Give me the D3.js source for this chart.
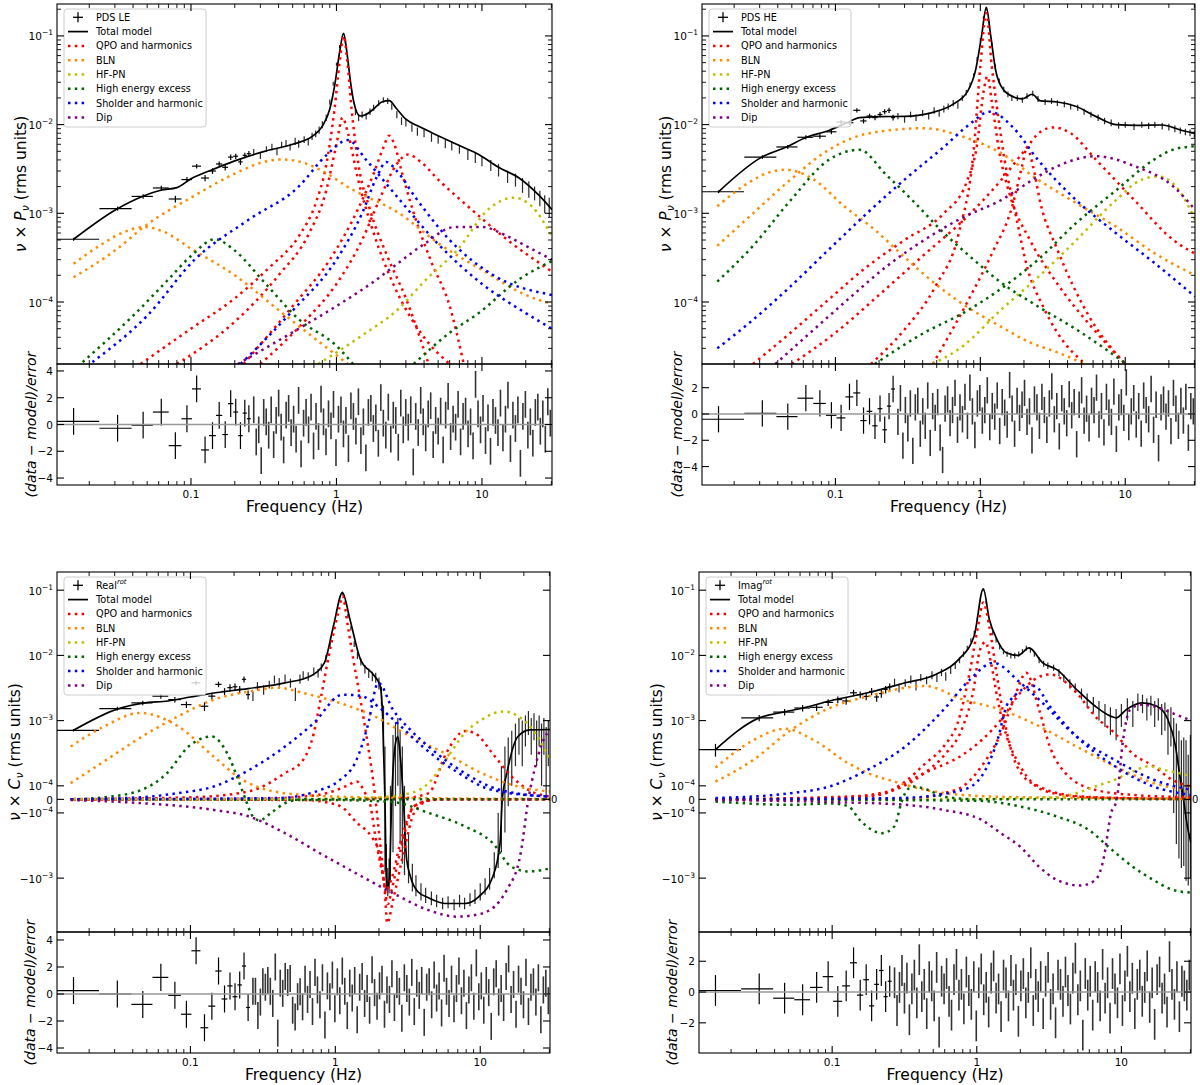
<!DOCTYPE html>
<html>
<head>
<meta charset="utf-8">
<script src="https://cdn.jsdelivr.net/npm/d3@7"></script>
<style>
  body { margin: 0; background: #fff; }
  svg text { font-family: "DejaVu Sans", sans-serif; fill: #000; }
</style>
</head>
<body>
<svg id="chart" width="1200" height="1085"></svg>
<script>
// shared frequency axis and binning
const xLim = [0.012, 30.3]
const loFreqs = [0.0156,0.0313,0.0469,0.0625,0.0781,0.0938,0.1094,0.125,0.1406,0.1563,0.1719,0.1875,0.2031,0.2188,0.2344,0.25]
const loHalf = 0.0078
const denseSpan = [0.27, 29.5]
const xMajor = [0.1, 1, 10]

// ---------- PDS LE ----------
const leLo = [5.1e-4,1.13e-3,1.55e-3,1.93e-3,1.45e-3,2.4e-3,3.4e-3,2.5e-3,3.0e-3,3.6e-3,3.3e-3,4.3e-3,4.4e-3,3.8e-3,4.5e-3,4.7e-3]
const leLoErr = [2e-5,6e-5,9e-5,1.2e-4,1.3e-4,1.6e-4,2e-4,2e-4,2.2e-4,2.5e-4,2.6e-4,3e-4,3e-4,3e-4,3.2e-4,3.4e-4]
const leDense = [[0.27,4.9e-3,4e-4],[0.3,4.5e-3,4e-4],[0.33,5.3e-3,4e-4],[0.36,5.6e-3,5e-4],[0.39,5.0e-3,5e-4],[0.42,5.9e-3,5e-4],[0.45,6.2e-3,5e-4],[0.48,5.6e-3,5e-4],[0.52,6.5e-3,6e-4],[0.55,6.1e-3,6e-4],[0.6,6.8e-3,6e-4],[0.64,6.4e-3,6e-4],[0.68,7.4e-3,7e-4],[0.72,7.9e-3,7e-4],[0.76,8.7e-3,8e-4],[0.8,1.0e-2,9e-4],[0.85,1.2e-2,1e-3],[0.9,1.8e-2,1.2e-3],[0.95,2.9e-2,1.5e-3],[1.0,4.8e-2,2e-3],[1.05,7.6e-2,3e-3],[1.1,1.0e-1,4e-3],[1.15,8.5e-2,3.5e-3],[1.2,4.6e-2,2e-3],[1.27,2.3e-2,1.5e-3],[1.35,1.4e-2,1.2e-3],[1.42,1.2e-2,1.1e-3],[1.5,1.3e-2,1.1e-3],[1.6,1.25e-2,1.1e-3],[1.7,1.4e-2,1.2e-3],[1.8,1.55e-2,1.2e-3],[1.95,1.75e-2,1.3e-3],[2.1,1.9e-2,1.4e-3],[2.25,1.85e-2,1.4e-3],[2.4,1.6e-2,1.3e-3],[2.6,1.3e-2,1.2e-3],[2.8,1.1e-2,1.1e-3],[3.0,1.05e-2,1e-3],[3.3,9.2e-3,9e-4],[3.6,8.4e-3,9e-4],[4.0,8.0e-3,8e-4],[4.5,7.2e-3,8e-4],[5.0,6.8e-3,7e-4],[5.6,6.1e-3,7e-4],[6.2,5.8e-3,7e-4],[7.0,5.3e-3,6e-4],[8.0,4.6e-3,6e-4],[9.0,4.3e-3,6e-4],[10,3.9e-3,5e-4],[11.5,3.5e-3,5e-4],[13,3.1e-3,5e-4],[15,2.6e-3,4e-4],[17,2.4e-3,4e-4],[19,2.1e-3,4e-4],[21,1.9e-3,4e-4],[23,1.7e-3,3e-4],[25,1.5e-3,3e-4],[27,1.3e-3,3e-4],[29,1.2e-3,3e-4]]
const leModel = [[0.0156,5.1e-4],[0.031,1.12e-3],[0.045,1.52e-3],[0.062,1.82e-3],[0.08,1.95e-3],[0.1,2.45e-3],[0.14,3.1e-3],[0.2,3.9e-3],[0.32,5e-3],[0.5,6e-3],[0.7,7.6e-3],[0.8,9.6e-3],[0.9,1.5e-2],[0.98,3e-2],[1.05,6.5e-2],[1.12,0.107],[1.18,6.5e-2],[1.25,3e-2],[1.32,1.75e-2],[1.45,1.25e-2],[1.6,1.3e-2],[1.8,1.5e-2],[2.05,1.8e-2],[2.3,1.86e-2],[2.6,1.5e-2],[3.0,1.15e-2],[3.7,9.5e-3],[5,7.5e-3],[7,5.8e-3],[9.5,4.6e-3],[13,3.3e-3],[18,2.5e-3],[24.6,1.6e-3],[30.3,1.1e-3]]
const leQpo = [
  [[0.045,2e-5],[0.1,5e-5],[0.2,1.1e-4],[0.35,2.5e-4],[0.55,5.5e-4],[0.72,1.3e-3],[0.85,3.5e-3],[0.97,1.5e-2],[1.05,5e-2],[1.12,0.1],[1.19,5e-2],[1.27,1.5e-2],[1.4,4e-3],[1.7,1.1e-3],[2.2,3.5e-4],[3,1.1e-4],[4.3,2e-5]],
  [[0.08,2e-5],[0.2,6e-5],[0.4,2e-4],[0.65,6e-4],[0.85,1.8e-3],[1.0,6e-3],[1.1,1.2e-2],[1.2,8e-3],[1.4,2.5e-3],[1.8,6e-4],[2.5,1.5e-4],[4,4e-5],[6,2e-5]],
  [[0.23,2e-5],[0.5,9e-5],[0.9,3e-4],[1.4,1.1e-3],[1.8,2.8e-3],[2.1,5.5e-3],[2.3,7.5e-3],[2.5,6e-3],[2.8,3e-3],[3.4,1e-3],[4.5,2.8e-4],[6,9e-5],[7.5,2e-5]],
  [[0.3,2e-5],[0.6,6e-5],[1.0,1.6e-4],[1.5,5e-4],[2.0,1.5e-3],[2.6,3.6e-3],[3.1,4.6e-3],[3.8,3.8e-3],[5,2.4e-3],[8,1.2e-3],[15,5e-4],[30.3,2.2e-4]]
]
const leBln = [
  [[0.0156,2.7e-4],[0.025,4.6e-4],[0.035,6.2e-4],[0.048,7e-4],[0.065,6.2e-4],[0.1,4e-4],[0.2,2e-4],[0.42,7.6e-5],[0.77,3.5e-5],[1.2,2e-5]],
  [[0.0156,1.9e-4],[0.03,3.8e-4],[0.05,7.5e-4],[0.1,1.5e-3],[0.2,2.8e-3],[0.3,3.7e-3],[0.42,4.05e-3],[0.6,3.7e-3],[0.8,3e-3],[1.25,1.9e-3],[2.7,1e-3],[5,4.6e-4],[10,2.3e-4],[20,1.2e-4],[30.3,9.5e-5]]
]
const leHfpn = [[[0.75,2e-5],[1.5,4.2e-5],[2.7,8.5e-5],[4,1.7e-4],[6.9,4e-4],[11,1.1e-3],[16.5,1.5e-3],[22,1.2e-3],[30.3,5.5e-4]]]
const leHee = [
  [[0.018,2.1e-5],[0.04,7e-5],[0.07,1.8e-4],[0.1,3.3e-4],[0.146,5.1e-4],[0.2,3.8e-4],[0.32,1.66e-4],[0.55,6.4e-5],[1.0,3.2e-5],[1.3,2e-5]],
  [[3.4,2e-5],[6,4.5e-5],[9.5,7.5e-5],[18,1.8e-4],[30.3,2.9e-4]]
]
const leSh = [
  [[0.021,2.1e-5],[0.05,7e-5],[0.106,3e-4],[0.25,8.5e-4],[0.55,2e-3],[0.85,4.5e-3],[1.2,6.7e-3],[1.6,4e-3],[2.7,1.44e-3],[5,4.5e-4],[10,1.6e-4],[20,7.5e-5],[30.3,5e-5]],
  [[0.22,2e-5],[0.5,8e-5],[1.0,3e-4],[1.5,1e-3],[1.9,2.6e-3],[2.2,3.8e-3],[2.6,3e-3],[3.5,1.5e-3],[6,5e-4],[12,2e-4],[30.3,1.2e-4]]
]
const leDip = [[[0.21,2e-5],[0.55,5e-5],[1.0,9e-5],[1.77,1.66e-4],[2.7,2.8e-4],[4,4.5e-4],[6.5,7e-4],[10,7e-4],[15,5.5e-4],[20,4.3e-4],[30.3,3e-4]]]
const leResLo = [0.23,-0.28,-0.05,0.93,-1.58,0.43,2.66,-1.9,-0.83,0.68,-0.75,1.56,0.93,-0.83,0.85,0.43]
const leResDense = [1.1,-1.3,-0.4,-2.7,0.9,0.2,-0.8,1.1,-1.5,0.3,1.6,-0.2,-1.9,0.7,1.2,-0.6,0.4,-1.1,1.8,-2.2,
  0.1,0.9,-0.4,1.3,-1.6,0.6,-0.9,1.9,0.2,-1.3,0.8,-0.1,1.5,-2.1,0.4,1.1,-0.7,0.3,-1.8,1.4,
  0.6,-0.5,1.7,-1.2,0.2,-2.5,0.9,1.2,-0.3,0.5,-1.4,2.0,0.1,-0.8,1.3,-1.1,0.7,0.3,-1.7,1.6,
  -0.4,0.9,-0.2,1.1,-2.8,0.6,-0.6,1.8,0.2,-1.0,0.8,1.4,-1.5,0.3,-0.5,1.0,-1.9,0.7,2.1,-0.9,
  0.4,-0.2,1.5,-1.3,0.6,1.0,-0.7,0.2,-1.6,3.0,0.8,-0.4,1.2,-1.2,0.5,-2.0,0.9,0.3,-0.6,1.6,
  -1.0,0.4,2.2,-1.8,0.7,-0.3,1.1,-2.9,0.6,1.5,-0.8,0.2,-1.4,0.9,1.3,-0.5,0.8,-1.1,1.7,0.1]

// ---------- PDS HE ----------
const heLo = [1.75e-3,4.3e-3,5.6e-3,7.2e-3,7.4e-3,8.3e-3,1.07e-2,1.05e-2,1.45e-2,1.1e-2,1.25e-2,1.2e-2,1.3e-2,1.4e-2,1.45e-2,1.2e-2]
const heLoErr = [6e-5,2e-4,3e-4,4e-4,4.5e-4,5e-4,6e-4,6e-4,8e-4,7e-4,8e-4,8e-4,9e-4,9e-4,1e-3,9e-4]
const heDense = [[0.27,1.25e-2,1e-3],[0.3,1.15e-2,1e-3],[0.33,1.3e-2,1e-3],[0.36,1.2e-2,1e-3],[0.4,1.35e-2,1.1e-3],[0.44,1.25e-2,1.1e-3],[0.48,1.45e-2,1.2e-3],[0.52,1.35e-2,1.2e-3],[0.56,1.5e-2,1.3e-3],[0.6,1.6e-2,1.3e-3],[0.65,1.75e-2,1.4e-3],[0.7,1.65e-2,1.4e-3],[0.75,2.0e-2,1.5e-3],[0.8,2.3e-2,1.6e-3],[0.85,2.8e-2,1.8e-3],[0.9,3.6e-2,2e-3],[0.95,5.5e-2,3e-3],[1.0,9e-2,4e-3],[1.05,0.16,6e-3],[1.1,0.2,8e-3],[1.15,0.14,6e-3],[1.2,8e-2,4e-3],[1.27,4.5e-2,3e-3],[1.35,3.1e-2,2e-3],[1.45,2.5e-2,1.8e-3],[1.55,2.2e-2,1.6e-3],[1.65,2.0e-2,1.5e-3],[1.8,2.0e-2,1.5e-3],[1.95,1.9e-2,1.4e-3],[2.1,2.1e-2,1.5e-3],[2.3,2.25e-2,1.6e-3],[2.5,1.95e-2,1.5e-3],[2.8,1.8e-2,1.4e-3],[3.1,1.85e-2,1.4e-3],[3.4,1.75e-2,1.3e-3],[3.8,1.7e-2,1.3e-3],[4.2,1.6e-2,1.2e-3],[4.7,1.55e-2,1.2e-3],[5.2,1.4e-2,1.1e-3],[5.8,1.3e-2,1e-3],[6.5,1.2e-2,1e-3],[7.2,1.1e-2,9e-4],[8,1.05e-2,9e-4],[9,9.8e-3,8e-4],[10,1.0e-2,8e-4],[11.5,9.5e-3,8e-4],[13,1.0e-2,8e-4],[14.5,9.7e-3,8e-4],[16,1.0e-2,8e-4],[18,9.6e-3,8e-4],[20,9.4e-3,8e-4],[22,9.0e-3,8e-4],[24,8.6e-3,7e-4],[26,8.3e-3,7e-4],[28,8.1e-3,7e-4],[30,7.8e-3,7e-4]]
const heModel = [[0.0156,1.75e-3],[0.031,4.3e-3],[0.046,5.6e-3],[0.063,7.2e-3],[0.09,8.6e-3],[0.12,1.05e-2],[0.147,1.2e-2],[0.2,1.23e-2],[0.3,1.24e-2],[0.45,1.35e-2],[0.65,1.7e-2],[0.82,2.4e-2],[0.93,4.2e-2],[1.02,0.1],[1.1,0.21],[1.18,0.1],[1.28,4e-2],[1.45,2.45e-2],[1.7,2.05e-2],[1.95,1.95e-2],[2.28,2.2e-2],[2.6,1.85e-2],[3.4,1.8e-2],[4.6,1.6e-2],[6.3,1.23e-2],[8.6,1e-2],[12,9.8e-3],[18,9.9e-3],[24,8.7e-3],[30.3,8e-3]]
const heQpo = [
  [[0.176,2e-5],[0.3,4.9e-5],[0.49,1.5e-4],[0.71,6e-4],[0.9,5.2e-3],[1.0,4.5e-2],[1.1,0.18],[1.2,4.5e-2],[1.3,1.6e-2],[1.47,4e-3],[1.77,9e-4],[2.1,2.5e-4],[2.7,9e-5],[3.4,4.5e-5],[5.3,2e-5]],
  [[0.027,2e-5],[0.049,4.5e-5],[0.09,1.07e-4],[0.165,2.5e-4],[0.3,5e-4],[0.56,1e-3],[0.8,2.2e-3],[0.95,6e-3],[1.05,2.3e-2],[1.12,3.5e-2],[1.2,1.8e-2],[1.35,5e-3],[1.6,1.6e-3],[2.2,5e-4],[3.5,1.5e-4],[6,5e-5],[10,2e-5]],
  [[0.47,2e-5],[0.8,9.5e-5],[1.2,3.5e-4],[1.66,1.2e-3],[1.95,3.5e-3],[2.1,5.6e-3],[2.3,3.5e-3],[2.6,1.3e-3],[3.4,3.9e-4],[5.6,7e-5],[10,2e-5]],
  [[0.05,2e-5],[0.1,4.5e-5],[0.2,1.2e-4],[0.4,3.3e-4],[0.8,9e-4],[1.4,2.4e-3],[2,5e-3],[2.6,8.3e-3],[3.2,9.3e-3],[4.2,8e-3],[6.3,4e-3],[11.6,1.4e-3],[21.5,5e-4],[30.3,3.5e-4]]
]
const heBln = [
  [[0.0153,1.2e-3],[0.025,2.2e-3],[0.035,2.9e-3],[0.045,3.1e-3],[0.071,2.4e-3],[0.115,1.2e-3],[0.187,6.5e-4],[0.3,3.2e-4],[0.49,1.6e-4],[0.8,8.9e-5],[1.3,5.6e-5],[2.2,3.5e-5],[3.4,2.7e-5],[5.3,2e-5]],
  [[0.0153,4.3e-4],[0.027,1e-3],[0.049,2.4e-3],[0.09,5.2e-3],[0.165,7.9e-3],[0.41,9.1e-3],[0.76,7.3e-3],[1.38,4.8e-3],[2.5,2.4e-3],[4.6,1.3e-3],[8.6,7.1e-4],[15.7,3.6e-4],[30.3,2e-4]]
]
const heHfpn = [[[0.47,2e-5],[0.76,3.2e-5],[1.38,8.1e-5],[2.5,1.9e-4],[4.6,5e-4],[8.6,1.4e-3],[13,2.4e-3],[17,2.6e-3],[23,1.9e-3],[30.3,8.5e-4]]]
const heHee = [
  [[0.0153,1.7e-4],[0.027,4.3e-4],[0.049,1.4e-3],[0.09,4e-3],[0.147,5.2e-3],[0.22,2.8e-3],[0.34,1.4e-3],[0.56,6e-4],[0.9,3e-4],[1.3,1.8e-4],[2.5,8.9e-5],[4.6,4.9e-5],[10.2,2e-5]],
  [[0.187,2e-5],[0.41,4.5e-5],[0.76,7.5e-5],[1.38,1.4e-4],[2.5,3e-4],[4.6,7.8e-4],[8.6,1.8e-3],[15.7,4e-3],[22,5.3e-3],[30.3,5.7e-3]]
]
const heSh = [[[0.0153,3e-5],[0.027,6.3e-5],[0.049,1.5e-4],[0.09,3.9e-4],[0.165,1e-3],[0.3,2.4e-3],[0.56,5.6e-3],[0.85,1.02e-2],[1.16,1.4e-2],[1.66,9.5e-3],[2.5,4e-3],[4.6,1.4e-3],[8.6,6e-4],[15.7,2.8e-4],[30.3,1.15e-4]]]
const heDip = [[[0.0385,2e-5],[0.067,4.5e-5],[0.122,1.07e-4],[0.224,2.5e-4],[0.41,5e-4],[0.76,9e-4],[1.38,1.4e-3],[2.5,2.6e-3],[3.4,3.4e-3],[6.3,4.4e-3],[11.6,3.4e-3],[21.5,2e-3],[30.3,1.1e-3]]]
const heResLo = [-0.4,0.05,-0.2,1.2,0.8,-0.1,-0.3,1.3,1.6,-0.5,0.2,-0.9,0.4,-1.2,0.6,1.9]
const heResDense = [-0.6,1.2,-2.4,0.3,-1.1,0.8,-2.8,0.5,1.0,-1.5,0.2,-0.9,1.4,-2.2,0.6,-0.3,0.9,-1.8,-3.5,0.4,
  1.1,-0.7,0.3,1.6,-1.2,0.5,-0.4,1.3,-0.9,2.0,0.2,-1.6,0.8,1.2,-0.5,0.3,1.8,-1.0,0.6,-0.2,
  1.4,-1.3,0.9,0.1,-0.8,2.2,0.4,-1.5,1.0,-0.3,0.7,1.6,-0.6,0.2,-2.0,1.1,0.5,-0.9,1.3,0.3,
  -1.2,0.8,2.1,-0.4,0.6,-1.7,1.2,0.2,-0.7,1.5,-0.1,0.9,-2.3,0.7,1.8,-0.5,0.4,-1.1,1.0,0.3,
  2.0,-0.8,0.6,-1.4,1.3,0.1,-0.6,1.7,-1.9,0.5,0.9,-0.3,2.4,-1.0,0.2,1.2,-0.8,0.6,-1.5,1.4,
  0.3,-0.4,1.9,-1.2,0.7,-2.6,0.5,1.1,-0.2,0.8,-1.3,1.6,0.4,-0.9,1.0,-0.5,1.3,-1.8,0.6,0.2]

// ---------- Real (rotated cross spectrum) ----------
const reLo = [7.1e-4,1.53e-3,1.87e-3,2.37e-3,2.1e-3,1.76e-3,3.8e-3,1.66e-3,2.37e-3,3.6e-3,2.8e-3,3.2e-3,3.3e-3,3.0e-3,4.3e-3,2.5e-3]
const reLoErr = [3e-5,1e-4,1.5e-4,2e-4,2e-4,2e-4,3e-4,2.5e-4,3e-4,3.5e-4,3.5e-4,4e-4,4e-4,4e-4,4.5e-4,4e-4]
const reDense = [[0.27,2.4e-3,4e-4],[0.29,3.4e-3,5e-4],[0.32,3.0e-3,5e-4],[0.35,3.6e-3,5e-4],[0.38,4.3e-3,6e-4],[0.41,3.9e-3,6e-4],[0.45,4.5e-3,6e-4],[0.49,3.8e-3,6e-4],[0.53,2.6e-3,6e-4],[0.57,4.4e-3,7e-4],[0.6,5.0e-3,7e-4],[0.65,4.8e-3,7e-4],[0.71,5.7e-3,8e-4],[0.76,5.4e-3,8e-4],[0.8,6.6e-3,9e-4],[0.86,9e-3,1.1e-3],[0.92,1.5e-2,1.5e-3],[0.97,2.7e-2,2e-3],[1.02,4.8e-2,3e-3],[1.07,7.5e-2,4e-3],[1.12,9e-2,5e-3],[1.17,6.5e-2,4e-3],[1.22,4e-2,3e-3],[1.28,2.6e-2,2e-3],[1.35,1.5e-2,1.5e-3],[1.42,1e-2,1.2e-3],[1.5,8e-3,1e-3],[1.6,6.2e-3,9e-4],[1.7,5.4e-3,9e-4],[1.8,4.8e-3,8e-4],[1.9,4.6e-3,8e-4],[2.0,3.8e-3,8e-4],[2.08,2.5e-3,8e-4],[2.15,1e-3,7e-4],[2.2,-2e-4,6e-4],[2.25,-9e-4,6e-4],[2.3,-1.3e-3,6e-4],[2.35,-1.1e-3,6e-4],[2.4,-5e-4,6e-4],[2.5,1e-4,5e-4],[2.6,4.5e-4,5e-4],[2.7,6e-4,5e-4],[2.8,2e-4,5e-4],[2.9,-1e-4,5e-4],[3.0,-4e-4,5e-4],[3.2,-7e-4,5e-4],[3.4,-1.1e-3,5e-4],[3.6,-1.4e-3,5e-4],[3.9,-1.7e-3,5e-4],[4.2,-1.9e-3,5e-4],[4.6,-2.1e-3,5e-4],[5,-2.3e-3,5e-4],[5.5,-2.5e-3,5e-4],[6,-2.4e-3,5e-4],[6.6,-2.6e-3,5e-4],[7.2,-2.3e-3,5e-4],[7.8,-2.5e-3,5e-4],[8.5,-2.2e-3,5e-4],[9.2,-2e-3,5e-4],[10,-1.7e-3,5e-4],[10.8,-1.4e-3,4e-4],[11.6,-1.1e-3,4e-4],[12.5,-7e-4,3e-4],[13.3,-4e-4,3e-4],[14,-1e-4,3e-4],[14.8,1e-4,3e-4],[15.6,2.5e-4,3e-4],[16.5,4e-4,3e-4],[17.5,5.5e-4,3.5e-4],[18.5,7e-4,4e-4],[19.5,6e-4,4e-4],[20.5,8e-4,4e-4],[21.5,1e-3,4e-4],[22.5,7e-4,4e-4],[23.5,9e-4,4e-4],[24.5,6e-4,4e-4],[25.5,8e-4,4e-4],[26.5,5e-4,4e-4],[27.5,7e-4,4e-4],[28.5,4e-4,4e-4],[29.5,6e-4,4e-4]]
const reModel = [[0.0156,7.1e-4],[0.0313,1.5e-3],[0.047,1.85e-3],[0.07,2.0e-3],[0.1,2.3e-3],[0.145,2.65e-3],[0.25,3.1e-3],[0.45,3.8e-3],[0.67,4.8e-3],[0.84,7.7e-3],[0.97,2.8e-2],[1.12,9.2e-2],[1.26,3.6e-2],[1.49,8.7e-3],[1.87,4.8e-3],[2.04,3.4e-3],[2.12,1.2e-3],[2.2,0],[2.25,-1e-3],[2.3,-1.4e-3],[2.36,-1e-3],[2.45,0],[2.58,4e-4],[2.7,5.7e-4],[2.8,3e-4],[2.95,0],[3.1,-5e-4],[3.3,-9.5e-4],[3.7,-1.6e-3],[4.4,-2e-3],[5.8,-2.45e-3],[7.8,-2.45e-3],[9.7,-1.95e-3],[12.2,-9.5e-4],[13.7,-2.9e-4],[14.2,0],[15.3,1.6e-4],[18.2,5.7e-4],[22,7.2e-4],[30.3,7.3e-4]]
const reQpo = [
  [[0.0156,2e-6],[0.1,1.5e-5],[0.255,6e-5],[0.45,1.57e-4],[0.6,2.5e-4],[0.71,6.4e-4],[0.79,2.1e-3],[0.94,1.57e-2],[1.06,5.1e-2],[1.12,8.1e-2],[1.22,2.8e-2],[1.33,8.7e-3],[1.49,2.1e-3],[1.67,4.5e-4],[1.87,4.6e-5],[1.98,-1.6e-4],[2.2,-1.7e-3],[2.28,-4.9e-3],[2.5,-2.2e-3],[2.95,-4.2e-4],[3.5,-1e-4],[4.4,-1e-5],[6,0],[30.3,0]],
  [[0.0156,0],[0.3,5e-6],[0.6,2e-5],[0.9,5e-5],[1.2,1e-4],[1.4,1.16e-4],[1.6,5e-5],[1.75,-5e-5],[1.9,-2.5e-4],[2.1,-8e-4],[2.25,-1.5e-3],[2.45,-1e-3],[2.8,-3e-4],[3.5,-5e-5],[5,0],[30.3,0]],
  [[0.0156,0],[0.6,-5e-6],[0.95,-3e-5],[1.12,-6e-5],[1.4,-1.4e-4],[1.77,-2.3e-4],[1.98,-3.7e-4],[2.15,-1e-3],[2.3,-2.5e-3],[2.45,-1.5e-3],[2.8,-4e-4],[3.5,-5e-5],[5,0],[30.3,0]],
  [[0.0156,0],[1,0],[3,1e-5],[4.4,4.6e-5],[5.8,3.1e-4],[7.8,6.9e-4],[9.2,6.4e-4],[12.2,3.1e-4],[16.4,1.4e-4],[21.5,7e-5],[30.3,2e-5]]
]
const reBln = [
  [[0.0149,4e-4],[0.025,8e-4],[0.045,1.31e-3],[0.082,8.2e-4],[0.145,2.8e-4],[0.228,1.24e-4],[0.34,7e-5],[0.6,3.3e-5],[1.4,1.6e-5],[5,8e-6],[30.3,3e-6]],
  [[0.0149,1.1e-4],[0.0263,2.5e-4],[0.0464,5.7e-4],[0.082,1.16e-3],[0.145,2.1e-3],[0.255,2.8e-3],[0.4,3.2e-3],[0.6,2.65e-3],[1.06,1.88e-3],[1.87,1.16e-3],[3.3,5.7e-4],[5.8,3.1e-4],[10.2,1.57e-4],[18.2,9.5e-5],[30.3,5.8e-5]]
]
const reHfpn = [[[0.0156,0],[1,4e-6],[2,1.5e-5],[3.3,4.6e-5],[4.4,1.1e-4],[5.8,2.5e-4],[7.8,6.4e-4],[10.2,1.03e-3],[14.5,1.38e-3],[18.2,1.17e-3],[24,6.4e-4],[30.3,2.5e-4]]]
const reHee = [
  [[0.0149,0],[0.026,1.6e-5],[0.046,7e-5],[0.069,1.57e-4],[0.097,4e-4],[0.14,5.7e-4],[0.18,3.1e-4],[0.215,1.2e-4],[0.24,0],[0.27,-1.14e-4],[0.3,-1.3e-4],[0.36,-1e-4],[0.45,-2.8e-5],[0.6,0],[30.3,0]],
  [[0.0149,0],[1,-5e-6],[2.5,-2e-5],[4.4,-1e-4],[7.8,-1.6e-4],[12.2,-2.9e-4],[16.4,-6.7e-4],[21.5,-7.9e-4],[30.3,-7.1e-4]]
]
const reSh = [
  [[0.0149,0],[0.046,1.6e-5],[0.082,4.6e-5],[0.145,9.5e-5],[0.255,1.76e-4],[0.45,4e-4],[0.71,9.2e-4],[1.12,2.5e-3],[1.5,2.4e-3],[2,1.6e-3],[2.7,9e-4],[4,4e-4],[7,1.6e-4],[12,7e-5],[30.3,2e-5]],
  [[0.0149,0],[0.4,1e-5],[0.79,7e-5],[1.06,1.2e-4],[1.4,2.5e-4],[1.67,8.2e-4],[1.98,3.8e-3],[2.5,1.47e-3],[3.3,7.2e-4],[4.4,4e-4],[7.8,1.57e-4],[13.7,7e-5],[30.3,2e-5]]
]
const reDip = [[[0.0149,-5e-6],[0.046,-2.8e-5],[0.145,-7.8e-5],[0.255,-1.14e-4],[0.45,-2.05e-4],[0.79,-4.2e-4],[1.4,-8.5e-4],[2.5,-1.7e-3],[4.4,-3.1e-3],[6.9,-3.9e-3],[10.2,-3.5e-3],[15.3,-1.5e-3],[19,-4.2e-4],[21.5,0],[24,2e-4],[29,6.4e-4],[30.3,7e-4]]]
const reResLo = [0.25,0,-0.77,1.23,-0.1,-1.5,3.2,-2.5,-0.9,1.7,-0.37,0.6,-0.2,0.67,2.07,-1.0]
const reResDense = [0.2,0.2,-1.6,-0.6,0.9,0.5,1.0,0.2,-0.7,2.0,-2.9,0.8,0.05,1.3,0.85,1.15,-1.2,-1.7,-0.2,0.17,
  -0.95,1.1,-0.4,0.7,-1.3,1.6,0.3,-0.8,1.2,-2.3,0.6,-0.2,1.4,-1.1,0.9,-0.5,1.7,0.2,-1.6,0.8,
  -0.3,1.0,-1.9,0.5,1.3,-0.7,0.4,-1.2,1.8,0.1,-0.9,0.6,1.1,-1.5,0.3,-0.4,1.5,-1.0,0.7,0.2,
  -1.8,1.2,0.4,-0.6,1.6,-1.3,0.8,-0.1,1.0,-2.1,0.5,0.9,-0.8,1.4,-0.3,0.6,-1.4,1.9,0.2,-0.7,
  1.1,-1.1,0.4,1.7,-0.5,0.8,-1.6,0.3,1.2,-0.9,2.3,-0.2,0.6,-1.2,1.0,0.1,-2.4,0.9,1.5,-0.6,
  0.4,-1.0,1.3,2.6,-0.4,0.7,-1.5,1.1,0.2,-0.8,1.6,-1.3,0.5,0.9,-0.6,1.2,-1.9,0.3,0.8,-0.5]

// ---------- Imag (rotated cross spectrum) ----------
const imLo = [3.6e-4,1.1e-3,1.35e-3,1.56e-3,1.6e-3,1.9e-3,2.1e-3,2.0e-3,2.67e-3,2.5e-3,2.35e-3,2.8e-3,2.3e-3,2.6e-3,3.0e-3,3.3e-3]
const imLoErr = [8e-5,1.2e-4,1.5e-4,1.8e-4,2e-4,2.2e-4,2.5e-4,2.5e-4,3e-4,3e-4,3e-4,3.5e-4,3.5e-4,3.5e-4,4e-4,4e-4]
const imDense = [[0.27,3.9e-3,5e-4],[0.29,3.2e-3,5e-4],[0.32,3.8e-3,5e-4],[0.35,4.3e-3,6e-4],[0.38,3.5e-3,6e-4],[0.41,4.6e-3,6e-4],[0.45,4.2e-3,6e-4],[0.49,5e-3,7e-4],[0.53,4.6e-3,7e-4],[0.57,5.5e-3,7e-4],[0.61,4.8e-3,7e-4],[0.66,6e-3,8e-4],[0.71,7e-3,8e-4],[0.76,8.5e-3,9e-4],[0.81,1.05e-2,1e-3],[0.86,1.3e-2,1.1e-3],[0.91,1.7e-2,1.3e-3],[0.96,2.2e-2,1.6e-3],[1.01,3.6e-2,2e-3],[1.06,7e-2,3e-3],[1.11,0.1,4e-3],[1.16,6.5e-2,3e-3],[1.22,3.4e-2,2e-3],[1.29,2.2e-2,1.6e-3],[1.36,1.7e-2,1.3e-3],[1.44,1.35e-2,1.2e-3],[1.53,1.15e-2,1.1e-3],[1.62,1.05e-2,1e-3],[1.72,1e-2,1e-3],[1.83,1e-2,1e-3],[1.95,1.05e-2,1e-3],[2.07,1.15e-2,1e-3],[2.2,1.3e-2,1.1e-3],[2.35,1.2e-2,1e-3],[2.5,1.05e-2,1e-3],[2.7,8.5e-3,9e-4],[2.9,7.5e-3,8e-4],[3.1,7e-3,8e-4],[3.4,6.5e-3,7e-4],[3.7,5.5e-3,7e-4],[4.0,4.5e-3,6e-4],[4.4,3.7e-3,6e-4],[4.8,3.2e-3,5e-4],[5.3,2.6e-3,5e-4],[5.8,2.1e-3,5e-4],[6.4,1.8e-3,5e-4],[7,1.5e-3,5e-4],[7.7,1.3e-3,5e-4],[8.4,1.1e-3,5e-4],[9.2,1.0e-3,5e-4],[10,1.3e-3,5e-4],[11,1.6e-3,6e-4],[12,1.4e-3,6e-4],[13,2e-3,6e-4],[14,1.9e-3,6e-4],[15,1.6e-3,6e-4],[16,1.8e-3,6e-4],[17,1.4e-3,6e-4],[18,1.6e-3,6e-4],[19,1.2e-3,6e-4],[20,1.3e-3,6e-4],[21,9e-4,6e-4],[22,1e-3,6e-4],[23,5e-4,6e-4],[24,3e-4,6e-4],[25,1e-4,6e-4],[26,-1e-4,6e-4],[27,-5e-5,6e-4],[28,-3e-4,8e-4],[29,-5e-4,8e-4],[30,-2e-4,8e-4]]
const imModel = [[0.0156,3.6e-4],[0.0313,1.1e-3],[0.046,1.35e-3],[0.063,1.56e-3],[0.096,2e-3],[0.176,2.67e-3],[0.32,3.8e-3],[0.52,5.1e-3],[0.75,8.7e-3],[0.96,2e-2],[1.11,0.105],[1.22,3.6e-2],[1.38,1.75e-2],[1.6,1.1e-2],[1.93,1e-2],[2.3,1.3e-2],[2.86,7.7e-3],[3.6,6e-3],[4.9,3e-3],[6.6,1.66e-3],[8.5,1.16e-3],[9.2,1.1e-3],[10.8,1.47e-3],[13.8,1.87e-3],[17.6,1.66e-3],[21,1.03e-3],[23.7,4e-4],[25.2,1.57e-4],[26.9,0],[28.6,-1.6e-4],[30.3,-2.9e-4]]
const imQpo = [
  [[0.0156,0],[0.1,5e-6],[0.2,3e-5],[0.32,1.16e-4],[0.44,2.2e-4],[0.59,4e-4],[0.75,1.03e-3],[0.9,6e-3],[1.02,2.8e-2],[1.11,6.5e-2],[1.22,2.8e-2],[1.38,4.8e-3],[1.55,1.03e-3],[1.76,3.1e-4],[2.1,1.4e-4],[2.7,9.5e-5],[3.6,4.6e-5],[6.6,1.6e-5],[30.3,3e-6]],
  [[0.0156,0],[0.1,1e-5],[0.2,4e-5],[0.3,9e-5],[0.44,1.6e-4],[0.6,3e-4],[0.8,8e-4],[0.95,3e-3],[1.05,1.2e-2],[1.15,1.6e-2],[1.25,8e-3],[1.4,2e-3],[1.6,6e-4],[2,2e-4],[3,6e-5],[6,1.5e-5],[30.3,2e-6]],
  [[0.0156,0],[0.3,0],[0.59,4.6e-5],[0.8,9.5e-5],[1.08,2e-4],[1.47,6.4e-4],[1.85,2.5e-3],[2.2,5.4e-3],[2.7,1.47e-3],[3.2,4e-4],[4.1,1.57e-4],[6.6,7e-5],[12,3.3e-5],[30.3,1.6e-5]],
  [[0.0156,0],[0.2,3e-5],[0.44,1.6e-4],[0.8,3e-4],[1.08,5e-4],[1.47,1.03e-3],[2,2.67e-3],[2.6,4.5e-3],[3.2,5.1e-3],[4.9,2.67e-3],[6.6,1.16e-3],[9,6.4e-4],[12,3.1e-4],[16.7,2e-4],[22.4,1.24e-4],[30.3,9.5e-5]]
]
const imBln = [
  [[0.0156,1.9e-4],[0.0285,5e-4],[0.047,7.5e-4],[0.075,5e-4],[0.13,2.2e-4],[0.176,1.57e-4],[0.27,1.16e-4],[0.44,7e-5],[0.8,3.3e-5],[2,1.6e-5],[30.3,5e-6]],
  [[0.0156,1.16e-4],[0.0285,2.5e-4],[0.052,7.2e-4],[0.096,1.56e-3],[0.176,2.35e-3],[0.44,3.4e-3],[0.8,2.1e-3],[1.47,1.47e-3],[2.7,8.2e-4],[4.9,4e-4],[9,2e-4],[16.7,1.1e-4],[30.3,7e-5]]
]
const imHfpn = [[[0.0156,0],[1,3e-6],[2,8e-6],[3.6,1.6e-5],[4.9,4.6e-5],[6.6,9.5e-5],[9,1.24e-4],[12,1.66e-4],[15.5,2e-4],[19.6,1.76e-4],[25,1.57e-4],[30.3,1.4e-4]]]
const imHee = [
  [[0.0156,-1.6e-5],[0.052,-4e-5],[0.1,-3e-5],[0.13,-5.3e-5],[0.155,-1.28e-4],[0.187,-1.8e-4],[0.22,-2.05e-4],[0.27,-1.6e-4],[0.3,-2.8e-5],[0.32,4.6e-5],[0.36,9.5e-5],[0.46,7e-5],[0.59,2e-5],[1.0,0],[30.3,0]],
  [[0.0156,0],[1,-1e-5],[2,-5.3e-5],[3.6,-1.14e-4],[5.9,-1.8e-4],[8.5,-3.6e-4],[12,-6.7e-4],[16.7,-1.07e-3],[22.4,-1.5e-3],[30.3,-1.67e-3]]
]
const imSh = [
  [[0.0156,1e-5],[0.052,4.6e-5],[0.096,9.5e-5],[0.176,1.76e-4],[0.32,4e-4],[0.59,1.47e-3],[0.9,4.3e-3],[1.3,7.7e-3],[2,3.8e-3],[2.7,2.1e-3],[4.9,5.7e-4],[9,2.5e-4],[16.7,1.24e-4],[30.3,7e-5]],
  [[0.0156,0],[0.3,1e-5],[0.8,7e-5],[1.08,1.4e-4],[1.37,4.5e-4],[1.65,1.88e-3],[2.5,3.4e-3],[3.2,1.66e-3],[4.9,5.7e-4],[9,2e-4],[16.7,9.5e-5],[30.3,3.3e-5]]
]
const imDip = [[[0.0156,-5e-6],[0.1,-2e-5],[0.32,-4e-5],[0.59,-7.8e-5],[1.08,-1.28e-4],[1.47,-2.05e-4],[2,-3.3e-4],[2.7,-6.7e-4],[3.6,-1.07e-3],[5.2,-1.3e-3],[6.6,-1.07e-3],[7.5,-5.3e-4],[8.5,-1e-4],[9.3,0],[10.2,4.5e-4],[11.5,1.47e-3],[13.8,1.76e-3],[16.7,1.66e-3],[22.4,1.31e-3],[30.3,1.0e-3]]]
const imResLo = [0.1,0.2,-0.4,-0.5,0.3,1.0,-0.6,0.4,1.9,-0.2,0.8,-0.9,0.5,1.4,-0.3,0.7]
const imResDense = [0.6,-1.2,0.3,1.4,-0.4,0.9,-1.8,0.2,1.1,-0.7,2.1,-0.3,0.5,-1.4,1.0,0.4,-0.9,1.6,-2.6,0.7,
  0.2,1.2,-0.6,-1.5,0.8,1.8,-0.2,0.5,-1.1,1.3,0.1,-0.8,1.0,-2.2,0.6,1.5,-0.5,0.3,-1.3,0.9,
  1.7,-0.4,0.2,-1.6,1.1,0.6,-0.9,1.4,-0.2,0.8,-1.9,0.4,1.2,-0.7,0.3,1.9,-1.2,0.5,-0.3,1.0,
  -1.4,0.7,1.6,-0.8,0.2,-2.0,1.1,0.5,-0.6,1.3,0.1,-1.1,0.9,2.2,-0.5,0.4,-2.8,1.2,-0.2,0.7,
  -1.5,1.0,0.3,-0.9,1.8,-0.4,0.6,-1.7,1.2,0.2,-0.7,1.5,-1.2,0.4,2.0,-0.3,0.9,-1.4,0.5,1.1,
  -0.6,0.3,1.7,-1.0,0.6,-2.1,0.8,1.3,-0.4,0.2,-1.3,2.3,0.5,-0.8,1.0,-1.6,0.7,0.4,-0.2,1.1]

const compOrder = ["qpo","bln","hfpn","hee","sh","dip"]
const compColor = {qpo:"#ff0000", bln:"#ff8c00", hfpn:"#bfbf00", hee:"#006400", sh:"#0000ff", dip:"#800080"}
const legendNames = ["Total model","QPO and harmonics","BLN","HF-PN","High energy excess","Sholder and harmonic","Dip"]

const panels = [
  {name:"PDS LE", sup:null, letter:"P", sym:false, yLim:[2e-5,0.229], resLim:[-4.52,4.52], resTicks:[-4,-2,0,2,4],
   left:57, right:552, top:4, mid:364, bot:485, ylabX:21, rlabX:31, xlabY:512,
   lo:leLo, loErr:leLoErr, dense:leDense, model:leModel, resLo:leResLo, resDense:leResDense,
   comps:{qpo:leQpo, bln:leBln, hfpn:leHfpn, hee:leHee, sh:leSh, dip:leDip}},
  {name:"PDS HE", sup:null, letter:"P", sym:false, yLim:[2e-5,0.229], resLim:[-5.4,3.8], resTicks:[-4,-2,0,2],
   left:702, right:1195, top:4, mid:364, bot:485, ylabX:666, rlabX:677, xlabY:512,
   lo:heLo, loErr:heLoErr, dense:heDense, model:heModel, resLo:heResLo, resDense:heResDense,
   comps:{qpo:heQpo, bln:heBln, hfpn:heHfpn, hee:heHee, sh:heSh, dip:heDip}},
  {name:"Real", sup:"rot", letter:"C", sym:true, yLim:[-6.7e-3,0.19], resLim:[-4.37,4.59], resTicks:[-4,-2,0,2,4],
   left:57, right:550, top:572, mid:932, bot:1053, ylabX:15, rlabX:30, xlabY:1080,
   lo:reLo, loErr:reLoErr, dense:reDense, model:reModel, resLo:reResLo, resDense:reResDense,
   comps:{qpo:reQpo, bln:reBln, hfpn:reHfpn, hee:reHee, sh:reSh, dip:reDip}},
  {name:"Imag", sup:"rot", letter:"C", sym:true, yLim:[-6.7e-3,0.19], resLim:[-3.96,3.9], resTicks:[-2,0,2],
   left:699, right:1191, top:572, mid:932, bot:1053, ylabX:657, rlabX:672, xlabY:1080,
   lo:imLo, loErr:imLoErr, dense:imDense, model:imModel, resLo:imResLo, resDense:imResDense,
   comps:{qpo:imQpo, bln:imBln, hfpn:imHfpn, hee:imHee, sh:imSh, dip:imDip}}
]

const svg = d3.select("#chart")
const defs = svg.append("defs")

// symmetric log with linear band of +-1e-4
function symT(v) {
  const t = 1e-4, lin = 13.5 / 65
  const a = Math.abs(v)
  return a <= t ? v / t * lin : Math.sign(v) * (lin + Math.log10(a / t))
}

const minus = s => String(s).replace("-", "\u2212")

function powLabel(sel, sign, exp) {
  sel.text(sign + "10")
  sel.append("tspan").attr("dy", -5).attr("font-size", 7.5).text("\u2212" + exp)
}

function drawPanel(p, idx) {
  const x = d3.scaleLog().domain(xLim).range([p.left, p.right])
  let y
  if (p.sym) {
    const ys = d3.scaleLinear().domain([symT(p.yLim[0]), symT(p.yLim[1])]).range([p.mid, p.top])
    y = v => ys(symT(v))
  } else {
    const ys = d3.scaleLog().domain(p.yLim).range([p.mid, p.top])
    y = v => ys(Math.max(v, 1e-8))
  }
  const yr = d3.scaleLinear().domain(p.resLim).range([p.bot, p.mid])

  defs.append("clipPath").attr("id", "cm" + idx).append("rect")
    .attr("x", p.left).attr("y", p.top).attr("width", p.right - p.left).attr("height", p.mid - p.top)
  defs.append("clipPath").attr("id", "cr" + idx).append("rect")
    .attr("x", p.left).attr("y", p.mid).attr("width", p.right - p.left).attr("height", p.bot - p.mid)

  const gm = svg.append("g").attr("clip-path", `url(#cm${idx})`)
  const gr = svg.append("g").attr("clip-path", `url(#cr${idx})`)

  // data: wide bins
  loFreqs.forEach((f, i) => {
    const v = p.lo[i], e = p.loErr[i]
    gm.append("line").attr("x1", x(f - loHalf)).attr("x2", x(f + loHalf)).attr("y1", y(v)).attr("y2", y(v))
      .attr("stroke", "#000").attr("stroke-width", 1.2)
    gm.append("line").attr("x1", x(f)).attr("x2", x(f)).attr("y1", y(v - e)).attr("y2", y(v + e))
      .attr("stroke", "#000").attr("stroke-width", 1.2)
  })
  // data: dense bins
  gm.selectAll(".dd").data(p.dense).enter().append("line")
    .attr("x1", d => x(d[0])).attr("x2", d => x(d[0]))
    .attr("y1", d => y(d[1] - d[2])).attr("y2", d => y(d[1] + d[2]))
    .attr("stroke", "#2a2a2a").attr("stroke-width", 1.2)

  // total model
  const line = d3.line().x(d => x(d[0])).y(d => y(d[1])).curve(d3.curveMonotoneX)
  gm.append("path").datum(p.model).attr("d", line)
    .attr("fill", "none").attr("stroke", "#000").attr("stroke-width", 1.7)

  // components
  compOrder.forEach(k => {
    p.comps[k].forEach(c => {
      gm.append("path").datum(c).attr("d", line)
        .attr("fill", "none").attr("stroke", compColor[k]).attr("stroke-width", 2.5)
        .attr("stroke-dasharray", "2.5 4.3")
    })
  })

  // legend
  const lx = p.left + 7, ly = p.top + 5, rowH = 14.3
  svg.append("rect").attr("x", lx).attr("y", ly).attr("width", 142).attr("height", 118).attr("rx", 3)
    .attr("fill", "#fff").attr("fill-opacity", 0.8).attr("stroke", "#cccccc").attr("stroke-width", 1)
  const rowY = i => ly + 8.3 + i * rowH
  svg.append("line").attr("x1", lx + 9).attr("x2", lx + 19).attr("y1", rowY(0)).attr("y2", rowY(0)).attr("stroke", "#000").attr("stroke-width", 1.3)
  svg.append("line").attr("x1", lx + 14).attr("x2", lx + 14).attr("y1", rowY(0) - 5).attr("y2", rowY(0) + 5).attr("stroke", "#000").attr("stroke-width", 1.3)
  const t0 = svg.append("text").attr("x", lx + 32).attr("y", rowY(0) + 3.5).attr("font-size", 9.7).text(p.name)
  if (p.sup) t0.append("tspan").attr("dy", -4.5).attr("font-size", 6.8).attr("font-style", "italic").text(p.sup)
  legendNames.forEach((nm, i) => {
    const ry = rowY(i + 1)
    const h = svg.append("line").attr("x1", lx + 4).attr("x2", lx + 24).attr("y1", ry).attr("y2", ry)
    if (i === 0) h.attr("stroke", "#000").attr("stroke-width", 1.7)
    else h.attr("stroke", compColor[compOrder[i - 1]]).attr("stroke-width", 2.5).attr("stroke-dasharray", "2.5 4.3")
    svg.append("text").attr("x", lx + 32).attr("y", ry + 3.5).attr("font-size", 9.7).text(nm)
  })

  // residuals
  loFreqs.forEach((f, i) => {
    const r = p.resLo[i]
    gr.append("line").attr("x1", x(f - loHalf)).attr("x2", x(f + loHalf)).attr("y1", yr(r)).attr("y2", yr(r))
      .attr("stroke", "#000").attr("stroke-width", 1.2)
    gr.append("line").attr("x1", x(f)).attr("x2", x(f)).attr("y1", yr(r - 1)).attr("y2", yr(r + 1))
      .attr("stroke", "#000").attr("stroke-width", 1.2)
  })
  const n = p.resDense.length
  const binLog = d3.scaleLinear().domain([0, n - 1]).range(denseSpan.map(Math.log10))
  gr.selectAll(".rd").data(p.resDense).enter().append("line")
    .attr("x1", (d, i) => x(10 ** binLog(i))).attr("x2", (d, i) => x(10 ** binLog(i)))
    .attr("y1", d => yr(d - 1)).attr("y2", d => yr(d + 1))
    .attr("stroke", "#333").attr("stroke-width", 1.6)
  gr.append("line").attr("x1", p.left).attr("x2", p.right).attr("y1", yr(0)).attr("y2", yr(0))
    .attr("stroke", "#999").attr("stroke-width", 1.6)

  // frames
  const ga = svg.append("g").attr("stroke", "#000").attr("fill", "none")
  ga.append("rect").attr("x", p.left).attr("y", p.top).attr("width", p.right - p.left).attr("height", p.mid - p.top).attr("stroke-width", 1.1)
  ga.append("rect").attr("x", p.left).attr("y", p.mid).attr("width", p.right - p.left).attr("height", p.bot - p.mid).attr("stroke-width", 1.1)

  // x ticks on all four horizontal edges
  const xMinor = []
  ;[0.01, 0.1, 1, 10].forEach(d => d3.range(2, 10).forEach(m => {
    const v = d * m
    if (v > xLim[0] && v < xLim[1]) xMinor.push(v)
  }))
  const edges = [[p.top, 1], [p.mid, -1], [p.mid, 1], [p.bot, -1]]
  edges.forEach(([ey, dir]) => {
    xMajor.forEach(v => ga.append("line").attr("x1", x(v)).attr("x2", x(v)).attr("y1", ey).attr("y2", ey + dir * 7).attr("stroke-width", 1.1))
    xMinor.forEach(v => ga.append("line").attr("x1", x(v)).attr("x2", x(v)).attr("y1", ey).attr("y2", ey + dir * 4).attr("stroke-width", 0.9))
  })
  xMajor.forEach(v => svg.append("text").attr("x", x(v)).attr("y", p.bot + 13).attr("text-anchor", "middle")
    .attr("font-size", 10.5).text(String(v)))

  // y ticks main
  const yTick = (v, len, w) => {
    ga.append("line").attr("x1", p.left).attr("x2", p.left + len).attr("y1", y(v)).attr("y2", y(v)).attr("stroke-width", w)
    ga.append("line").attr("x1", p.right).attr("x2", p.right - len).attr("y1", y(v)).attr("y2", y(v)).attr("stroke-width", w)
  }
  if (p.sym) {
    const majors = [[1e-1, "", 1], [1e-2, "", 2], [1e-3, "", 3], [1e-4, "", 4], [0, null, 0], [-1e-4, "\u2212", 4], [-1e-3, "\u2212", 3]]
    majors.forEach(([v, sign, ex]) => {
      yTick(v, 7, 1.1)
      const t = svg.append("text").attr("x", p.left - 4).attr("y", y(v) + 4.5).attr("text-anchor", "end").attr("font-size", 10.5)
      if (sign === null) t.text("0")
      else powLabel(t, sign, ex)
    })
    svg.append("text").attr("x", p.right + 1).attr("y", y(0) + 4).attr("font-size", 10).text("0")
  } else {
    ;[1, 2, 3, 4].forEach(ex => {
      const v = 10 ** -ex
      yTick(v, 7, 1.1)
      powLabel(svg.append("text").attr("x", p.left - 4).attr("y", y(v) + 4.5).attr("text-anchor", "end").attr("font-size", 10.5), "", ex)
    })
    ;[1e-5, 1e-4, 1e-3, 1e-2, 1e-1].forEach(d => d3.range(2, 10).forEach(m => {
      const v = d * m
      if (v > p.yLim[0] && v < p.yLim[1]) yTick(v, 4, 0.9)
    }))
  }

  // y ticks residual
  p.resTicks.forEach(v => {
    ga.append("line").attr("x1", p.left).attr("x2", p.left + 7).attr("y1", yr(v)).attr("y2", yr(v)).attr("stroke-width", 1.1)
    ga.append("line").attr("x1", p.right).attr("x2", p.right - 7).attr("y1", yr(v)).attr("y2", yr(v)).attr("stroke-width", 1.1)
    svg.append("text").attr("x", p.left - 4).attr("y", yr(v) + 4).attr("text-anchor", "end").attr("font-size", 10.5).text(minus(v))
  })

  // axis labels
  svg.append("text").attr("x", (p.left + p.right) / 2).attr("y", p.xlabY).attr("text-anchor", "middle")
    .attr("font-size", 15.5).text("Frequency (Hz)")
  const yl = svg.append("text").attr("transform", `translate(${p.ylabX},${(p.top + p.mid) / 2}) rotate(-90)`)
    .attr("text-anchor", "middle").attr("dy", "0.35em").attr("font-size", 15.5)
  yl.append("tspan").attr("font-style", "italic").text("\u03bd")
  yl.append("tspan").text(" \u00d7 ")
  yl.append("tspan").attr("font-style", "italic").text(p.letter)
  yl.append("tspan").attr("font-style", "italic").attr("font-size", 11).attr("dy", 3).text("\u03bd")
  yl.append("tspan").attr("dy", -3).text(" (rms units)")
  svg.append("text").attr("transform", `translate(${p.rlabX},${(p.mid + p.bot) / 2}) rotate(-90)`)
    .attr("text-anchor", "middle").attr("dy", "0.35em").attr("font-size", 14).attr("font-style", "italic")
    .text("(data \u2212 model)/error")
}

panels.forEach(drawPanel)
</script>
</body>
</html>
